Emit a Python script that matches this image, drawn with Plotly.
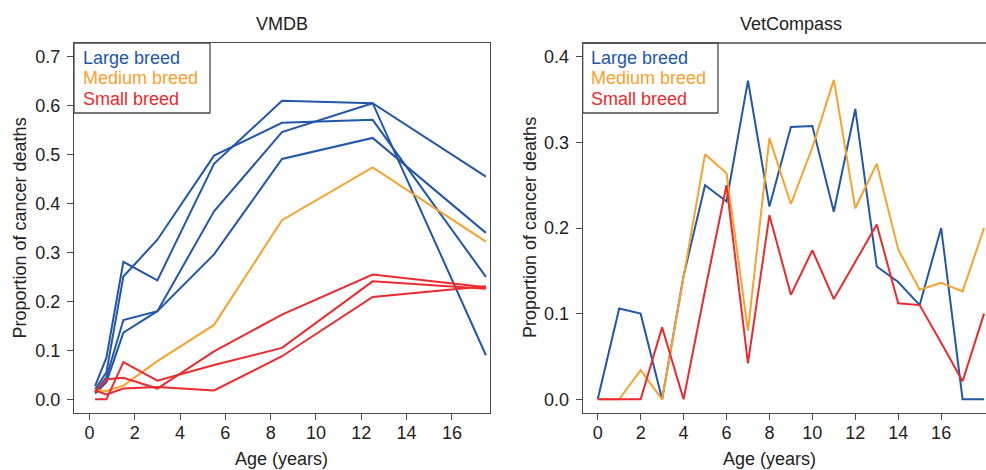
import plotly.graph_objects as go

# ---------------- data ----------------
# VMDB panel: age band midpoints (years)
vmdb_age = [0.25, 0.75, 1.5, 3, 5.5, 8.5, 12.5, 17.5]
vmdb_large_a = [0.027, 0.085, 0.281, 0.243, 0.481, 0.610, 0.605, 0.455]
vmdb_large_b = [0.020, 0.055, 0.251, 0.326, 0.498, 0.565, 0.571, 0.250]
vmdb_large_c = [0.015, 0.045, 0.162, 0.180, 0.384, 0.546, 0.605, 0.090]
vmdb_large_d = [0.012, 0.035, 0.136, 0.180, 0.296, 0.491, 0.534, 0.340]
vmdb_medium = [0.019, 0.017, 0.028, 0.078, 0.152, 0.366, 0.474, 0.322]
vmdb_small_a = [0.000, 0.000, 0.076, 0.038, 0.070, 0.105, 0.241, 0.226]
vmdb_small_b = [0.015, 0.041, 0.044, 0.022, 0.098, 0.173, 0.255, 0.229]
vmdb_small_c = [0.018, 0.010, 0.022, 0.025, 0.018, 0.088, 0.209, 0.231]

# VetCompass panel: age in whole years
vc_age = list(range(19))
vc_large = [0.0, 0.106, 0.100, 0.0, 0.144, 0.250, 0.231, 0.372, 0.225, 0.318,
            0.319, 0.219, 0.339, 0.155, 0.137, 0.110, 0.200, 0.0, 0.0]
vc_medium = [0.0, 0.0, 0.034, 0.0, 0.143, 0.286, 0.264, 0.080, 0.305, 0.228,
             0.294, 0.373, 0.223, 0.275, 0.175, 0.128, 0.136, 0.126, 0.200]
vc_small = [0.0, 0.0, 0.0, 0.084, 0.0, 0.127, 0.250, 0.042, 0.215, 0.122,
            0.174, 0.117, 0.160, 0.204, 0.112, 0.110, 0.066, 0.021, 0.100]

legend_labels = ["Large breed", "Medium breed", "Small breed"]
panel_titles = ["VMDB", "VetCompass"]
x_ticks = [0, 2, 4, 6, 8, 10, 12, 14, 16]
y_ticks_left = [0.0, 0.1, 0.2, 0.3, 0.4, 0.5, 0.6, 0.7]
y_ticks_right = [0.0, 0.1, 0.2, 0.3, 0.4]

# ---------------- style ----------------
BLUE = "#2157a6"
ORANGE = "#f8a12c"
RED = "#ec2a2d"
colors = [BLUE, ORANGE, RED]
FONT = "Liberation Sans"
TXT = "#222222"
FRAME = "#4a4a4a"
W, H = 986, 470

def px(x):
    return x / W

def py(y):
    return 1 - y / H

fig = go.Figure()

def add_line(x, y, color, xa, ya):
    fig.add_trace(go.Scatter(x=x, y=y, mode="lines",
                             line=dict(color=color, width=2),
                             xaxis=xa, yaxis=ya, showlegend=False,
                             hoverinfo="skip"))

for s in [vmdb_large_a, vmdb_large_b, vmdb_large_c, vmdb_large_d]:
    add_line(vmdb_age, s, BLUE, "x", "y")
add_line(vmdb_age, vmdb_medium, ORANGE, "x", "y")
for s in [vmdb_small_a, vmdb_small_b, vmdb_small_c]:
    add_line(vmdb_age, s, RED, "x", "y")

add_line(vc_age, vc_large, BLUE, "x2", "y2")
add_line(vc_age, vc_medium, ORANGE, "x2", "y2")
add_line(vc_age, vc_small, RED, "x2", "y2")

axis_common = dict(showgrid=False, zeroline=False, ticks="outside", ticklen=6,
                   tickwidth=1.3, tickcolor=FRAME, showline=True,
                   linecolor=FRAME, linewidth=1.3,
                   tickfont=dict(family=FONT, size=18, color=TXT))

fig.update_layout(
    width=W, height=H,
    margin=dict(l=0, r=0, t=0, b=0),
    paper_bgcolor="white", plot_bgcolor="white",
    showlegend=False,
    xaxis=dict(domain=[px(74), px(490)], range=[-0.68, 17.68],
               tickvals=x_ticks, mirror=True, anchor="y",
               ticklabelstandoff=-3, **axis_common),
    yaxis=dict(domain=[py(413), py(43)], range=[-0.028, 0.728],
               tickvals=y_ticks_left, tickformat=".1f", mirror=True,
               anchor="x", ticklabelstandoff=3, **axis_common),
    xaxis2=dict(domain=[px(582.7), 1.0], range=[-0.70, 18.09],
                tickvals=x_ticks, anchor="y2", ticklabelstandoff=-3,
                **axis_common),
    yaxis2=dict(domain=[py(413), py(43)], range=[-0.016, 0.416],
                tickvals=y_ticks_right, tickformat=".1f", anchor="x2",
                ticklabelstandoff=3, **axis_common),
)

# top frame line of the right panel (right edge lies outside the picture)
fig.add_shape(type="line", xref="x2 domain", yref="y2 domain",
              x0=0, x1=1, y0=1, y1=1, line=dict(color=FRAME, width=1.3))

# legend boxes
for (x0, x1) in [(74, 210), (582.7, 718)]:
    fig.add_shape(type="rect", xref="paper", yref="paper",
                  x0=px(x0), x1=px(x1), y0=py(113), y1=py(43),
                  line=dict(color=FRAME, width=1.3), fillcolor="rgba(0,0,0,0)")

annotations = []
for tx in [81, 589.3]:
    for i, (lab, col) in enumerate(zip(legend_labels, colors)):
        annotations.append(dict(x=px(tx), y=py(58 + 20.5 * i), xref="paper",
                                yref="paper", text=lab, showarrow=False,
                                xanchor="left", yanchor="middle",
                                font=dict(family=FONT, size=18, color=col)))

# panel titles
for cx, t in zip([282, 791], panel_titles):
    annotations.append(dict(x=px(cx), y=py(23.5), xref="paper", yref="paper",
                            text=t, showarrow=False, xanchor="center",
                            yanchor="middle",
                            font=dict(family=FONT, size=18, color=TXT)))

# x axis titles
for cx in [281, 769]:
    annotations.append(dict(x=px(cx), y=py(459), xref="paper", yref="paper",
                            text="Age (years)", showarrow=False,
                            xanchor="center", yanchor="middle",
                            font=dict(family=FONT, size=18, color=TXT)))

# y axis titles
for cx in [19.5, 530]:
    annotations.append(dict(x=px(cx), y=py(228), xref="paper", yref="paper",
                            text="Proportion of cancer deaths",
                            showarrow=False, textangle=-90,
                            xanchor="center", yanchor="middle",
                            font=dict(family=FONT, size=18, color=TXT)))

fig.update_layout(annotations=annotations)

fig.write_html("out.html",
               config={"displayModeBar": False},
               post_script="document.body.style.margin='0';"
                           "document.body.style.overflow='hidden';")
